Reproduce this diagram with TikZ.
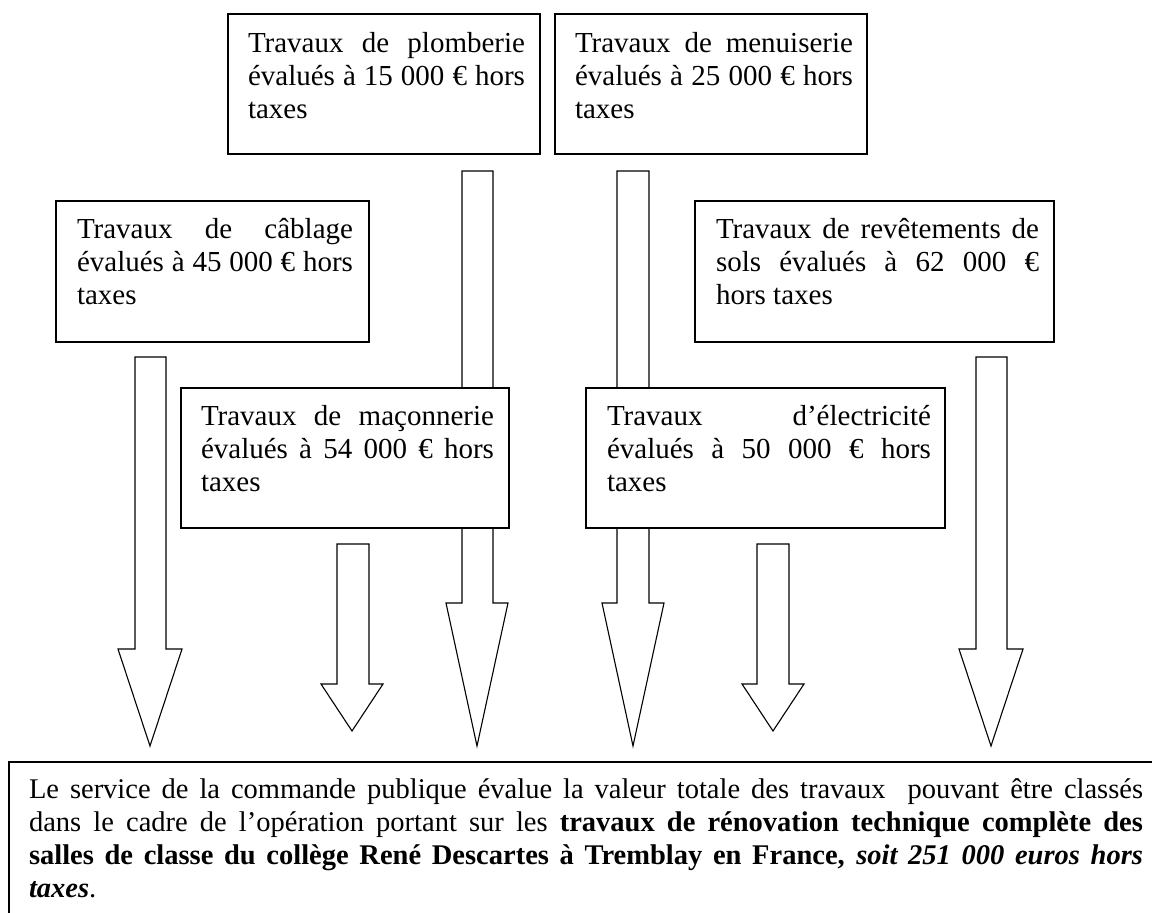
\documentclass[tikz,border=0pt]{standalone}
\usepackage{fontspec}
\setmainfont{Liberation Serif}
\usetikzlibrary{calc}

% three-line paragraph: first two lines justified, last line ragged
\newcommand\jtext[4]{\vtop{\hsize=#1\lineskiplimit=-100pt\lineskip=0pt
  \hbox to\hsize{#2}\hbox to\hsize{#3}\hbox{#4}}}
% four-line paragraph: first three lines justified, last line ragged
\newcommand\jtextfour[5]{\vtop{\hsize=#1\lineskiplimit=-100pt\lineskip=0pt
  \hbox to\hsize{#2}\hbox to\hsize{#3}\hbox to\hsize{#4}\hbox{#5}}}
% hollow block arrow pointing down: shaft x-range, shaft top, head top, head x-range, tip y
\newcommand\blockarrow[8]{%
  \coordinate (#1) at ({(#6+#7)/2},#8);
  \draw[barrow] (#2,#4) -- (#3,#4) -- (#3,#5) -- (#7,#5) -- (#1)
    -- (#6,#5) -- (#2,#5) -- cycle;}

\tikzset{
  work/.style={draw, line width=1.6pt, fill=white, rectangle, anchor=north west,
    inner sep=0pt, outer sep=0pt},
  barrow/.style={draw, line width=1.1pt, fill=white, line join=miter},
  lbl/.style={anchor=base west, inner sep=0pt, outer sep=0pt,
    font=\fontsize{29}{33}\selectfont},
  lblsum/.style={anchor=base west, inner sep=0pt, outer sep=0pt,
    font=\fontsize{28.5}{33}\selectfont},
}

\begin{document}
\begin{tikzpicture}[x=1pt, y=-1pt]
\useasboundingbox (0,0) rectangle (1152,913);
\fill[white] (0,0) rectangle (1152,913);
\clip (0,0) rectangle (1152,913);

% block arrows (the long ones pass behind the middle boxes)
\blockarrow{tipA}{135}{166}{357}{649}{118}{182}{746}
\blockarrow{tipB}{337}{369}{544}{684}{321}{383}{731}
\blockarrow{tipC}{462}{493}{171}{603}{446}{508}{746}
\blockarrow{tipD}{617}{649}{171}{603}{602}{664}{746}
\blockarrow{tipE}{757}{789}{544}{684}{742}{804}{731}
\blockarrow{tipF}{976}{1007}{357}{649}{959}{1023}{746}

% cost boxes
\node[work, minimum width=312pt, minimum height=140pt] (plomb) at (228,14) {};
\node[work, minimum width=312pt, minimum height=140pt] (menui) at (555,14) {};
\node[work, minimum width=313pt, minimum height=141pt] (cabl) at (56,201) {};
\node[work, minimum width=359pt, minimum height=141pt] (revet) at (695,201) {};
\node[work, minimum width=328pt, minimum height=140pt] (macon) at (181,388) {};
\node[work, minimum width=359pt, minimum height=140pt] (elec) at (586,388) {};

\node[lbl] (plombT) at ($(plomb.north west)+(20,38)$)
  {\jtext{277pt}{Travaux de plomberie}{évalués à 15 000 € hors}{taxes}};
\node[lbl] (menuiT) at ($(menui.north west)+(20,38)$)
  {\jtext{278pt}{Travaux de menuiserie}{évalués à 25 000 € hors}{taxes}};
\node[lbl] (cablT) at ($(cabl.north west)+(21,37)$)
  {\jtext{276pt}{Travaux de câblage}{évalués à 45 000 € hors}{taxes}};
\node[lbl] (revetT) at ($(revet.north west)+(21,37)$)
  {\jtext{323pt}{Travaux de revêtements de}{sols évalués à 62 000 €}{hors taxes}};
\node[lbl] (maconT) at ($(macon.north west)+(20,37)$)
  {\jtext{293pt}{Travaux de maçonnerie}{évalués à 54 000 € hors}{taxes}};
\node[lbl] (elecT) at ($(elec.north west)+(21,37)$)
  {\jtext{324pt}{Travaux d’électricité}{évalués à 50 000 € hors}{taxes}};

% summary box
\node[work, minimum width=1200pt, minimum height=200pt] (total) at (9,762) {};
\node[lblsum] (totalT) at ($(total.north west)+(20,36)$)
  {\jtextfour{1114pt}%
    {Le service de la commande publique évalue la valeur totale des travaux\ \ pouvant être classés}%
    {dans le cadre de l’opération portant sur les \textbf{travaux de rénovation technique complète des}}%
    {\textbf{salles de classe du collège René Descartes à Tremblay en France,} \textbf{\textit{soit 251 000 euros hors}}}%
    {\textbf{\textit{taxes}}.}};
\end{tikzpicture}
\end{document}
